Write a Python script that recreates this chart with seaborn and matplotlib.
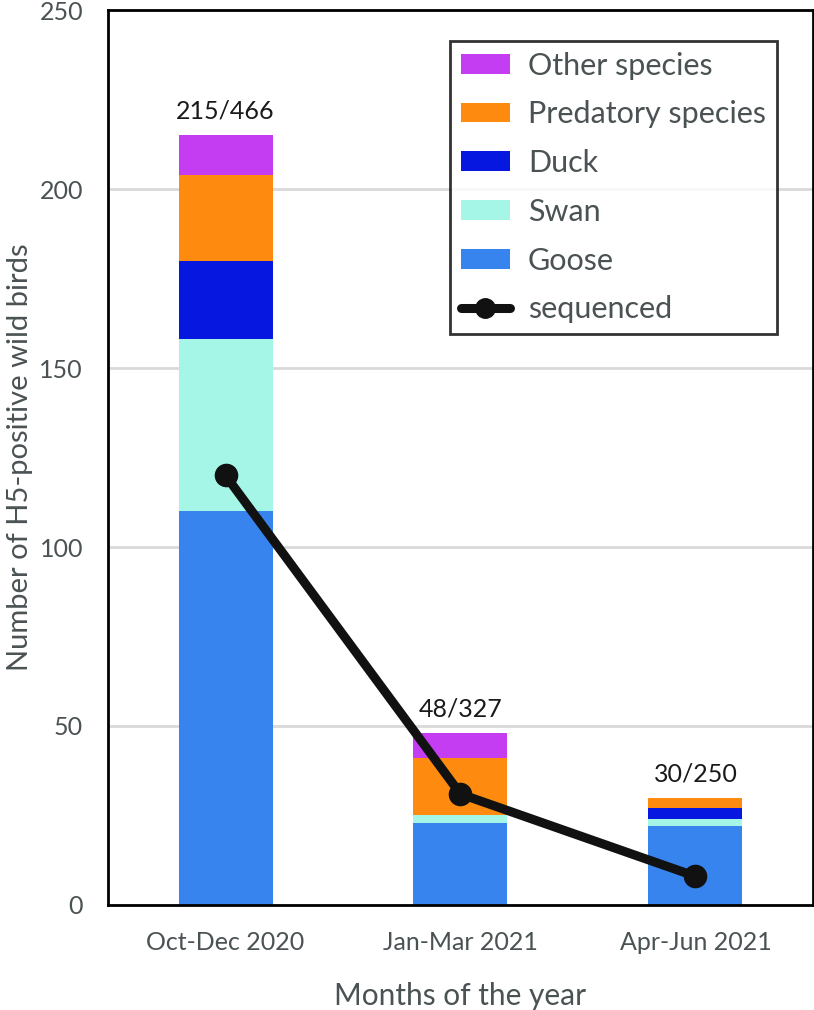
import numpy as np
import pandas as pd
import matplotlib
matplotlib.use("Agg")
import matplotlib.pyplot as plt
from matplotlib.patches import Patch
from matplotlib.lines import Line2D
import seaborn as sns

# data
periods = ["Oct-Dec 2020", "Jan-Mar 2021", "Apr-Jun 2021"]
goose = [110, 23, 22]
swan = [48, 2, 2]
duck = [22, 0, 3]
predatory = [24, 16, 3]
other = [11, 7, 0]
sequenced = [120, 31, 8]
bar_labels = ["215/466", "48/327", "30/250"]

species = ["Goose", "Swan", "Duck", "Predatory species", "Other species"]
colors = ["#3784EE", "#A6F6E8", "#0618E0", "#FF8A10", "#C43DF2"]

sns.set_theme(style="white")
plt.rcParams["font.family"] = ["Lato", "DejaVu Sans"]

df = pd.DataFrame({"period": periods, "Goose": goose, "Swan": swan, "Duck": duck,
                   "Predatory species": predatory, "Other species": other})
cum = df[species].cumsum(axis=1)

fig = plt.figure(figsize=(8.14, 10.1), dpi=100)
ax = fig.add_axes([0.1327, 0.104, 0.866, 0.886])

# stacked bars: draw cumulative totals from top layer down
for sp, col in reversed(list(zip(species, colors))):
    sns.barplot(x=df["period"], y=cum[sp], color=col, width=0.4,
                saturation=1, linewidth=0, edgecolor="none", ax=ax, zorder=2)

sns.lineplot(x=[0, 1, 2], y=sequenced, color="#111111", linewidth=6.5,
             marker="o", markersize=17, markeredgewidth=0, ax=ax, zorder=4)

for i, lab in enumerate(bar_labels):
    ax.text(i, cum["Other species"][i] + 3.5, lab, ha="center", va="bottom",
            fontsize=18, color="#1a1a1a")

ax.set_xlim(-0.5, 2.5)
ax.set_ylim(0, 250)
ax.set_yticks([0, 50, 100, 150, 200, 250])
ax.yaxis.grid(True, color="#d9d9d9", linewidth=2)
ax.set_axisbelow(True)
for s in ax.spines.values():
    s.set_color("black")
    s.set_linewidth(2)
ax.tick_params(axis="both", length=0, labelsize=18, labelcolor="#4a5254")
ax.tick_params(axis="y", pad=18)
ax.tick_params(axis="x", pad=19)
ax.set_xlabel("Months of the year", fontsize=21.5, color="#4a5254", labelpad=20)
ax.set_ylabel("Number of H5-positive wild birds", fontsize=21, color="#4a5254")
ax.yaxis.set_label_coords(-0.106, 0.5)

handles = [Patch(facecolor=c, edgecolor="none", label=s)
           for s, c in zip(species[::-1], colors[::-1])]
handles.append(Line2D([0], [0], color="#111111", linewidth=6.5, marker="o",
                      markersize=14, label="sequenced"))
leg = ax.legend(handles=handles, loc="upper right", bbox_to_anchor=(0.949, 0.966),
                fontsize=22, frameon=True, fancybox=False,
                labelspacing=0.68, handlelength=1.6, handleheight=0.62,
                handletextpad=0.6, borderpad=0.36, borderaxespad=0)
leg.get_frame().set_edgecolor("black")
leg.get_frame().set_linewidth(2)
for t in leg.get_texts():
    t.set_color("#4a5254")

fig.savefig("out.png", dpi=100)
